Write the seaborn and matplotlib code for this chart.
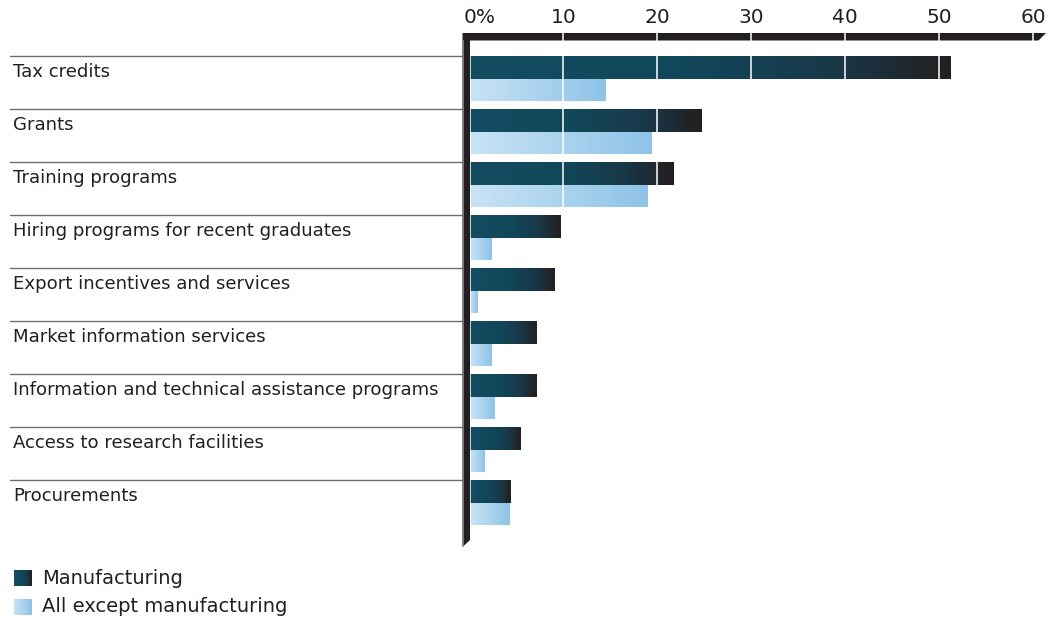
import numpy as np
import pandas as pd
import matplotlib
matplotlib.use("Agg")
import matplotlib.pyplot as plt
import matplotlib.transforms as mtransforms
from matplotlib.colors import LinearSegmentedColormap
from matplotlib.patches import Polygon
from matplotlib.lines import Line2D
import seaborn as sns

# ---- data -------------------------------------------------------------
categories = [
    "Tax credits",
    "Grants",
    "Training programs",
    "Hiring programs for recent graduates",
    "Export incentives and services",
    "Market information services",
    "Information and technical assistance programs",
    "Access to research facilities",
    "Procurements",
]
manufacturing = [51.2, 24.6, 21.7, 9.6, 9.0, 7.1, 7.1, 5.4, 4.3]
all_except = [14.4, 19.3, 18.9, 2.3, 0.8, 2.3, 2.6, 1.5, 4.2]
series_names = ["Manufacturing", "All except manufacturing"]
tick_values = [0, 10, 20, 30, 40, 50, 60]
tick_labels = ["0%", "10", "20", "30", "40", "50", "60"]

df = pd.DataFrame({
    "category": categories * 2,
    "value": manufacturing + all_except,
    "series": [series_names[0]] * len(categories) + [series_names[1]] * len(categories),
})

# ---- style ------------------------------------------------------------
sns.set_theme(style="white")
plt.rcParams["font.family"] = ["DejaVu Sans"]
TEXT = "#231f20"
FRAME = "#231f20"

W, H = 1050, 622
fig = plt.figure(figsize=(W / 100, H / 100), dpi=100)


def fx(px):
    return px / W


def fy(py):
    return 1 - py / H


x0_px, x60_px = 469.5, 1033.0
top_px, bot_px = 40.0, 548.0
ax = fig.add_axes([fx(x0_px), fy(bot_px), fx(x60_px - x0_px), (bot_px - top_px) / H])

dark_cmap = LinearSegmentedColormap.from_list(
    "manuf", [(0, "#144c62"), (0.45, "#11475a"), (0.75, "#18394a"), (1, "#231f20")])
light_cmap = LinearSegmentedColormap.from_list(
    "others", [(0, "#c9e3f5"), (1, "#8ec3e7")])

sns.barplot(data=df, y="category", x="value", hue="series", order=categories,
            hue_order=series_names, palette=["#124a5e", "#a8d2ee"], width=0.85,
            dodge=True, orient="h", legend=False, ax=ax, saturation=1)

# ---- gradient fill for each bar ---------------------------------------
grad = np.linspace(0, 1, 256).reshape(1, -1)
n = len(categories)
for i, patch in enumerate(list(ax.patches)):
    cmap = dark_cmap if i < n else light_cmap
    x, y = patch.get_x(), patch.get_y()
    w, h = patch.get_width(), patch.get_height()
    if w <= 0:
        continue
    im = ax.imshow(grad, cmap=cmap, aspect="auto", extent=[x, x + w, y + h, y],
                   zorder=2, interpolation="bicubic")
    im.set_clip_path(patch)
    patch.set_facecolor("none")
    patch.set_edgecolor("none")

# ---- axes -------------------------------------------------------------
row_off = 0.425
px_per_row = 53.0
ax.set_xlim(0, 60)
ax.set_ylim(-row_off + (bot_px - 56) / px_per_row, -row_off - (56 - top_px) / px_per_row)
ax.set_xticks(tick_values)
ax.set_xticklabels(tick_labels)
ax.xaxis.set_ticks_position("top")
ax.tick_params(axis="x", length=0, pad=9.5, labelsize=14.5, labelcolor=TEXT)
ax.set_yticks([])
ax.set_xlabel("")
ax.set_ylabel("")
for s in ax.spines.values():
    s.set_visible(False)
first = ax.get_xticklabels()[0]
first.set_horizontalalignment("left")
first.set_transform(first.get_transform()
                    + mtransforms.ScaledTranslation(-5.5 / 100, 0, fig.dpi_scale_trans))

ax.set_axisbelow(False)
ax.grid(axis="x", color="white", linewidth=1.1)
ax.grid(axis="y", visible=False)
ax.patch.set_alpha(0)

# ---- category labels and row separators -------------------------------
trans = mtransforms.blended_transform_factory(fig.transFigure, ax.transData)
for i, name in enumerate(categories):
    sep_y = i - row_off
    fig.add_artist(Line2D([fx(10), fx(463)], [sep_y, sep_y], transform=trans,
                          color="#6d6e71", linewidth=1.0))
    ax.text(fx(13), sep_y + 16 / px_per_row, name, transform=trans, ha="left",
            va="center", fontsize=13.1, color=TEXT, clip_on=False)

# ---- heavy frame with slanted ends ------------------------------------
top_bar = Polygon([(fx(463), fy(33)), (fx(1046), fy(33)), (fx(1038.5), fy(40.5)),
                   (fx(463), fy(40.5))], closed=True, transform=fig.transFigure,
                  facecolor=FRAME, edgecolor="none", zorder=5)
left_bar = Polygon([(fx(462.5), fy(33)), (fx(470), fy(33)), (fx(470), fy(540)),
                    (fx(462.5), fy(547))], closed=True, transform=fig.transFigure,
                   facecolor=FRAME, edgecolor="none", zorder=5)
shadow = Polygon([(fx(462.5), fy(40)), (fx(464), fy(40)), (fx(464), fy(545.5)),
                  (fx(462.5), fy(547))], closed=True, transform=fig.transFigure,
                 facecolor="#77777a", edgecolor="none", zorder=6)
for p in (top_bar, left_bar, shadow):
    fig.add_artist(p)
for v in tick_values[1:]:
    xd = ax.transData.transform((v, 0))[0]
    xf = fig.transFigure.inverted().transform((xd, 0))[0]
    fig.add_artist(Line2D([xf, xf], [fy(33), fy(40.5)], transform=fig.transFigure,
                          color="white", linewidth=1.1, zorder=7))

# ---- legend -----------------------------------------------------------
for k, (name, cmap) in enumerate(zip(series_names, [dark_cmap, light_cmap])):
    top = 570 + k * 29
    lax = fig.add_axes([fx(14), fy(top + 16), fx(18), 16 / H])
    lax.imshow(grad, cmap=cmap, aspect="auto", interpolation="bicubic")
    lax.set_axis_off()
    fig.text(fx(42), fy(top + 8), name, ha="left", va="center", fontsize=14,
             color=TEXT)

fig.savefig("out.png", dpi=100, facecolor="white")
